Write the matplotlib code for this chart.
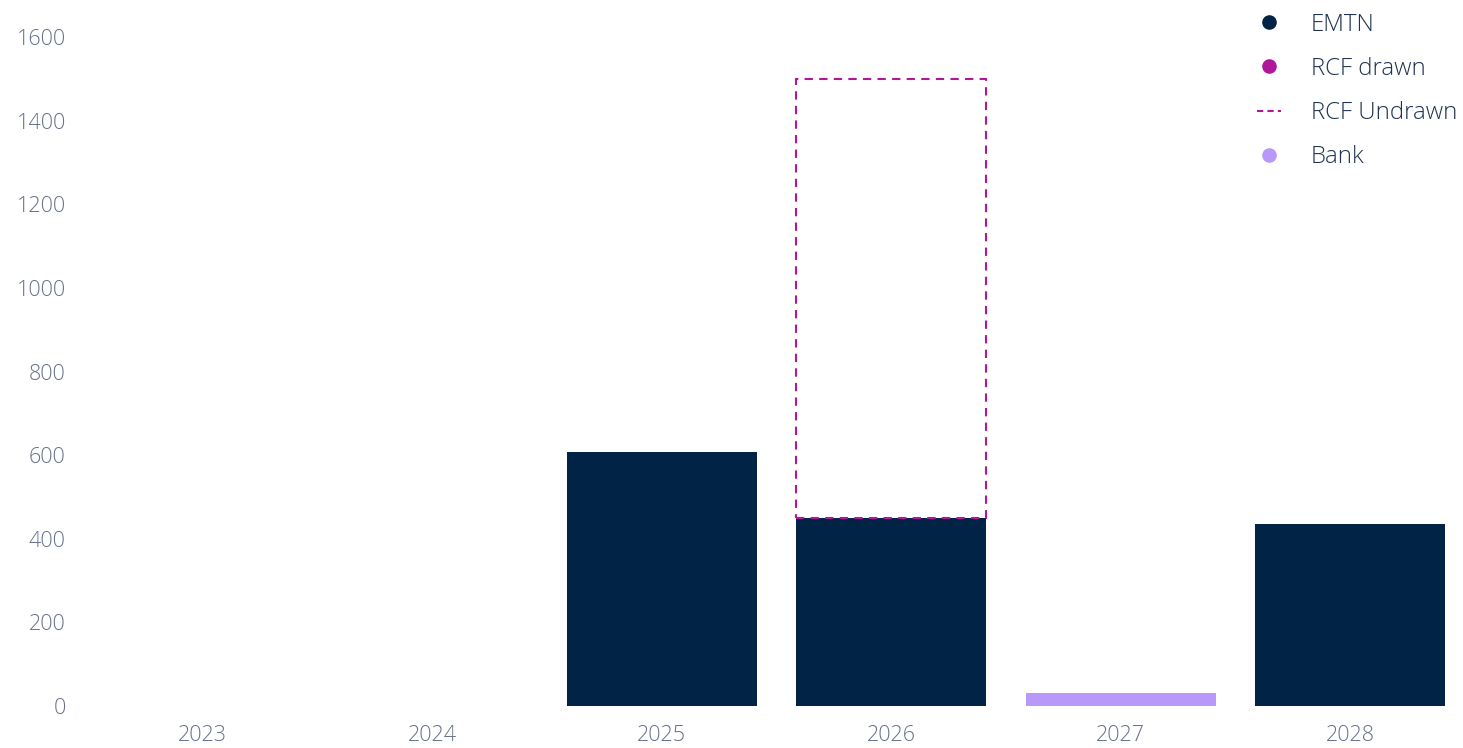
import matplotlib.pyplot as plt
from matplotlib.lines import Line2D

years = ["2023", "2024", "2025", "2026", "2027", "2028"]
emtn = [0, 0, 607, 450, 0, 435]
rcf_drawn = [0, 0, 0, 0, 0, 0]
rcf_undrawn = [0, 0, 0, 1050, 0, 0]
bank = [0, 0, 0, 0, 30, 0]
yticks = [0, 200, 400, 600, 800, 1000, 1200, 1400, 1600]

NAVY = "#012345"
MAGENTA = "#B0179A"
LAVENDER = "#B898F8"
TICK = "#67718A"
TEXT = "#1F3350"

plt.rcParams["font.family"] = ["Open Sans", "DejaVu Sans"]
plt.rcParams["font.weight"] = "light"

fig = plt.figure(figsize=(14.63, 7.48), dpi=100)
ax = fig.add_axes([88 / 1463, 42 / 748, 1377 / 1463, 669 / 748])

x = list(range(len(years)))
w = 0.83


def draw(vals, bottoms, **kw):
    # skip empty segments so no hairline edges show
    idx = [i for i, v in enumerate(vals) if v > 0]
    if idx:
        ax.bar([x[i] for i in idx], [vals[i] for i in idx], width=w,
               bottom=[bottoms[i] for i in idx], **kw)


base = [0] * len(years)
draw(emtn, base, color=NAVY, linewidth=0)
base = [b + e for b, e in zip(base, emtn)]
draw(rcf_drawn, base, color=MAGENTA, linewidth=0)
base = [b + r for b, r in zip(base, rcf_drawn)]
draw(bank, base, color=LAVENDER, linewidth=0)
base = [b + k for b, k in zip(base, bank)]
draw(rcf_undrawn, base, fill=False, edgecolor=MAGENTA,
     linestyle=(0, (4, 3)), linewidth=1.5)

ax.set_xlim(-0.5, 5.5)
ax.set_ylim(0, 1600)
ax.set_xticks(x)
ax.set_xticklabels(years)
ax.set_yticks(yticks)
ax.tick_params(axis="both", length=0, labelsize=15.5, colors=TICK)
ax.tick_params(axis="x", pad=14)
ax.tick_params(axis="y", pad=16)
for s in ax.spines.values():
    s.set_visible(False)

handles = [
    Line2D([], [], marker="o", linestyle="none", color=NAVY, markersize=9.5),
    Line2D([], [], marker="o", linestyle="none", color=MAGENTA, markersize=9.5),
    Line2D([], [], color=MAGENTA, linestyle=(0, (3, 2)), linewidth=1.5),
    Line2D([], [], marker="o", linestyle="none", color=LAVENDER, markersize=9.5),
]
labels = ["EMTN", "RCF drawn", "RCF Undrawn", "Bank"]
leg = fig.legend(handles, labels, loc="upper right", bbox_to_anchor=(1.011, 1.012),
                 frameon=False, fontsize=17.3, labelspacing=0.84,
                 handlelength=1.0, handletextpad=1.25, labelcolor=TEXT)

fig.savefig("out.png", dpi=100)
